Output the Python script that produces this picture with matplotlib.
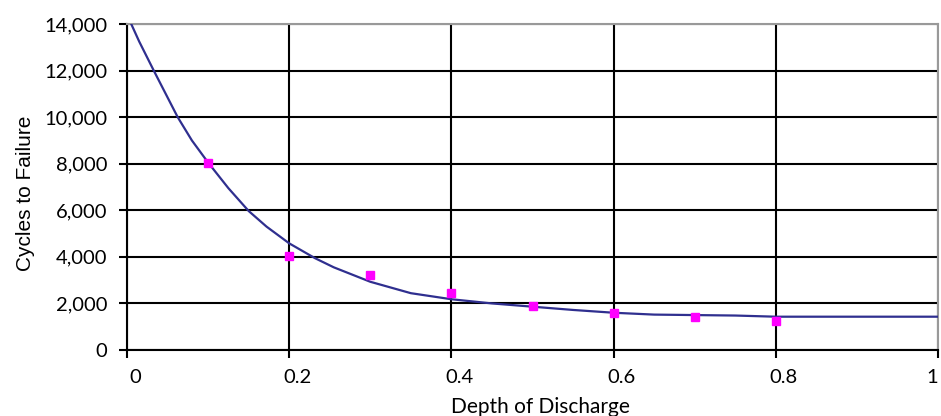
import matplotlib
matplotlib.use("Agg")
import matplotlib.pyplot as plt
import matplotlib.transforms as mtransforms
from matplotlib.ticker import FuncFormatter

# measured points (depth of discharge vs cycles)
dod_pts = [0.1, 0.2, 0.3, 0.4, 0.5, 0.6, 0.7, 0.8]
cycles_pts = [8050, 4020, 3220, 2450, 1910, 1600, 1400, 1260]

# trend curve
dod_curve = [0.0, 0.015, 0.033, 0.0625, 0.08, 0.1, 0.125, 0.15, 0.172, 0.2, 0.232, 0.255,
             0.3, 0.35, 0.4, 0.45, 0.5, 0.55, 0.6, 0.65, 0.7, 0.75, 0.8, 0.9, 1.0]
cycles_curve = [14400, 13250, 12000, 10000, 9000, 8050, 6950, 5970, 5300, 4580, 3940, 3550,
                2930, 2440, 2180, 2000, 1860, 1720, 1600, 1520, 1500, 1480, 1430, 1430, 1430]

x_ticks = [0, 0.2, 0.4, 0.6, 0.8, 1.0]
y_ticks = [0, 2000, 4000, 6000, 8000, 10000, 12000, 14000]

plt.rcParams['font.family'] = ['Lato', 'DejaVu Sans']

fig = plt.figure(figsize=(9.41, 4.16), dpi=100)
ax = fig.add_axes([127 / 941, 1 - 350 / 416, 811 / 941, 326 / 416])

ax.plot(dod_curve, cycles_curve, color='#2f2f8f', lw=1.6, zorder=3)
ax.plot(dod_pts, cycles_pts, 's', color='#ff00ff', markersize=6, zorder=4)

ax.set_xlim(0, 1)
ax.set_ylim(0, 14000)
ax.set_xticks(x_ticks)
ax.set_yticks(y_ticks)
ax.xaxis.set_major_formatter(FuncFormatter(lambda v, p: '0' if v == 0 else ('1' if v == 1 else f'{v:.1f}')))
ax.yaxis.set_major_formatter(FuncFormatter(lambda v, p: f'{int(v):,}'))

ax.grid(True, color='black', lw=1.5, zorder=1)
ax.tick_params(axis='both', direction='out', length=6, width=1.5, labelsize=14.5, colors='black')
ax.tick_params(axis='y', pad=8)
ax.tick_params(axis='x', pad=8)

for s in ['left', 'bottom']:
    ax.spines[s].set_linewidth(1.5)
for s in ['top', 'right']:
    ax.spines[s].set_color('#999999')
    ax.spines[s].set_linewidth(1.5)

# excel style x labels sit a bit to the right of the tick
shift = mtransforms.ScaledTranslation(0.08, 0, fig.dpi_scale_trans)
xlabels = ax.get_xticklabels()
for lbl in xlabels[:-1]:
    lbl.set_transform(lbl.get_transform() + shift)
xlabels[-1].set_horizontalalignment('right')

ax.set_xlabel('Depth of Discharge', fontsize=15)
ax.xaxis.set_label_coords(0.51, -0.145)
ax.set_ylabel('Cycles to Failure', fontsize=15, family=['Liberation Sans', 'DejaVu Sans'])
ax.yaxis.set_label_coords(-0.113, 0.48)

fig.savefig('out.png', dpi=100)
